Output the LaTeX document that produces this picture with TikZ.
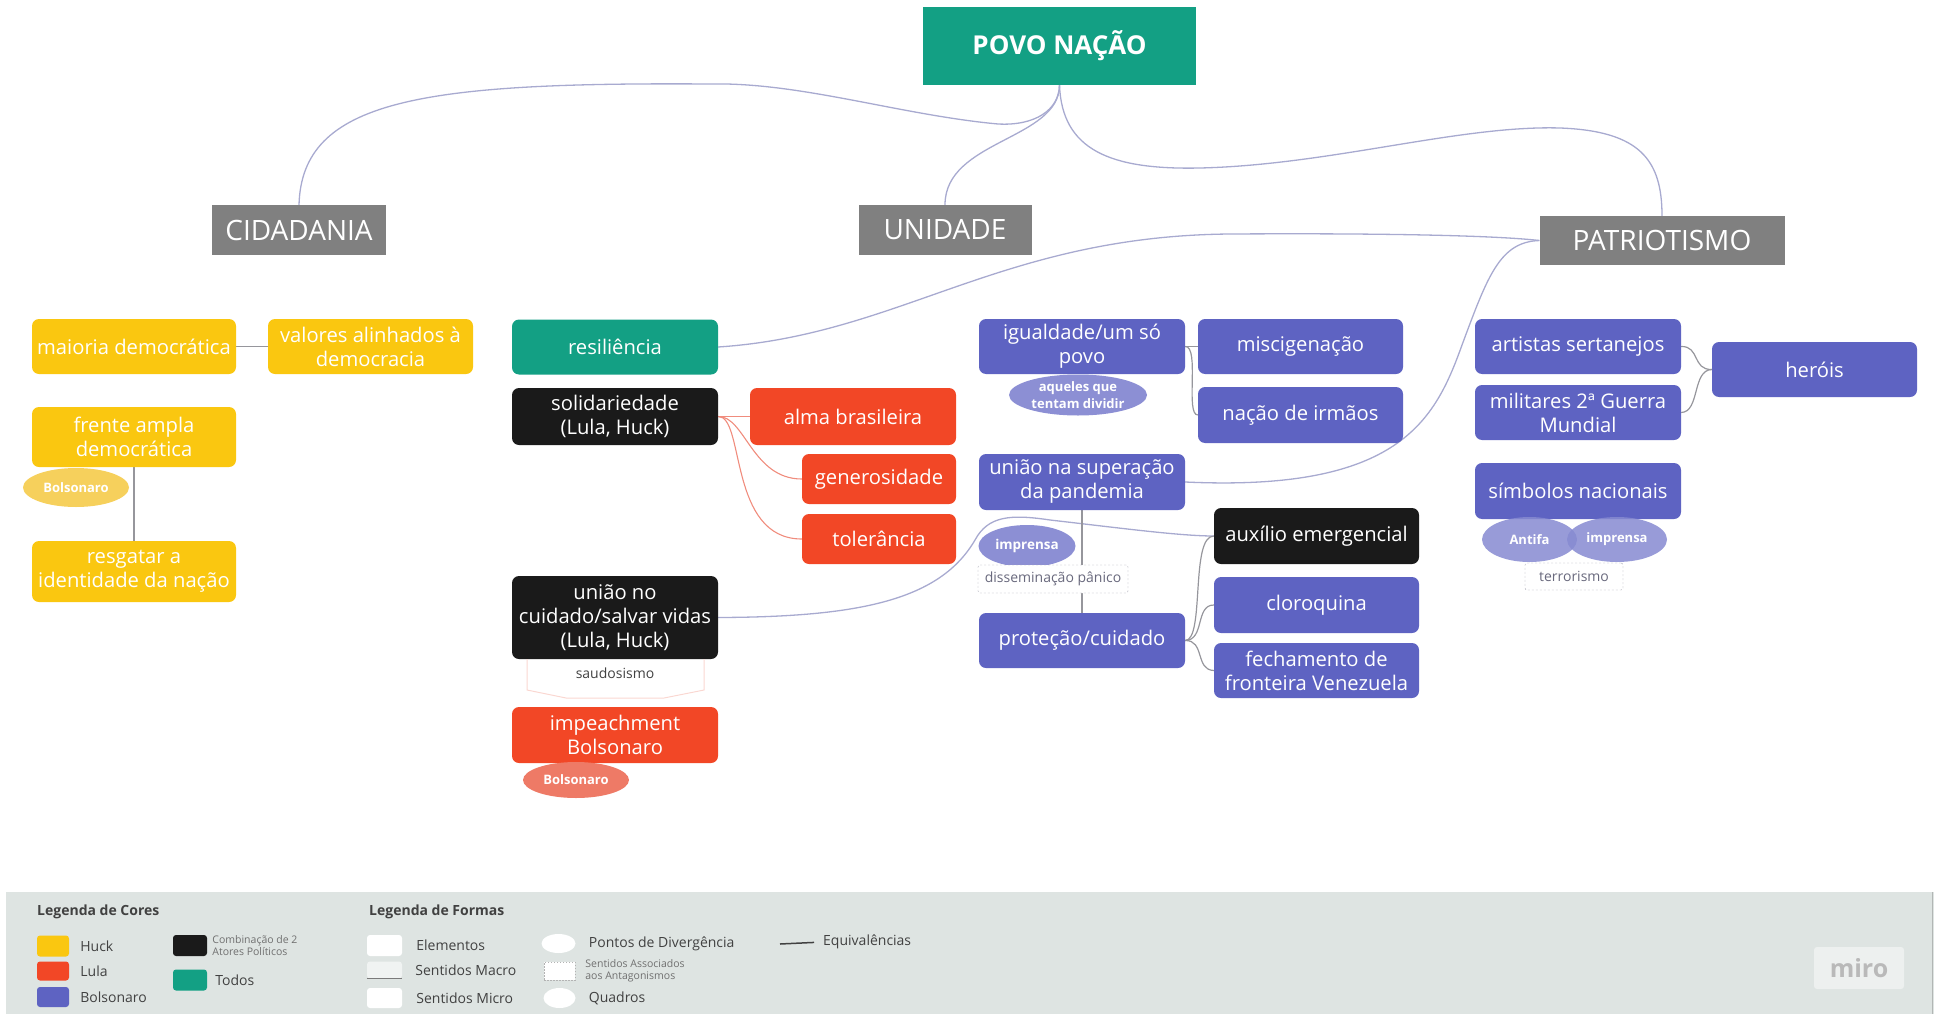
\documentclass[tikz,border=0pt]{standalone}
\usepackage{fontspec}
\setmainfont{Open Sans}
\usepackage{tikz}
\usetikzlibrary{shapes}
\usetikzlibrary{shapes.geometric}
\pgfdeclarelayer{edgelayer}
\pgfdeclarelayer{nodelayer}
\pgfsetlayers{edgelayer,nodelayer,main}
\definecolor{miroteal}{RGB}{19,160,132}
\definecolor{miroyellow}{RGB}{250,199,16}
\definecolor{mirored}{RGB}{242,71,38}
\definecolor{miroblue}{RGB}{94,99,194}
\definecolor{miroblack}{RGB}{26,26,26}
\definecolor{headgray}{RGB}{128,128,128}
\definecolor{paleyellow}{RGB}{246,208,92}
\definecolor{salmon}{RGB}{238,122,102}
\definecolor{paleblue}{RGB}{140,143,212}
\definecolor{linkgray}{RGB}{150,150,156}
\definecolor{linkblue}{RGB}{168,170,208}
\definecolor{linkred}{RGB}{240,140,125}
\definecolor{tagtext}{RGB}{105,105,125}
\definecolor{panel}{RGB}{222,228,226}
\definecolor{legtext}{RGB}{65,65,65}
\newcommand{\bxfont}{\fontsize{20.2}{24}\selectfont}
\newcommand{\hdfont}{\fontsize{28}{32}\selectfont}
\newcommand{\tpfont}{\fontsize{26}{30}\selectfont\bfseries}
\newcommand{\blfont}{\fontsize{13}{17}\selectfont\bfseries}
\newcommand{\tgfont}{\fontsize{14}{17}\selectfont}
\newcommand{\lgfont}{\fontsize{14}{17}\selectfont}
\newcommand{\lsfont}{\fontsize{10.5}{12.5}\selectfont}
\tikzstyle{none}=[inner sep=0pt]
\tikzstyle{box}=[rectangle, rounded corners=7pt, minimum width=206pt, minimum height=55pt, inner sep=0pt, text=white, align=center, font=\bxfont]
\tikzstyle{heading}=[rectangle, fill=headgray, inner sep=0pt, text=white, font=\hdfont]
\tikzstyle{blob}=[ellipse, inner sep=0pt, text=white, align=center, font=\blfont]
\tikzstyle{tagbox}=[rectangle, rounded corners=2pt, draw=tagtext!60, dash pattern=on 2pt off 2pt, fill=white, inner sep=0pt, text=tagtext, font=\tgfont]
\tikzstyle{conn}=[draw=linkgray, line width=1.2pt]
\tikzstyle{bluelink}=[draw=linkblue, line width=1.3pt]
\tikzstyle{redlink}=[draw=linkred, line width=1.1pt]
\tikzstyle{swatch}=[rectangle, rounded corners=3pt, minimum width=32pt, minimum height=21pt, inner sep=0pt]
\tikzstyle{legtitle}=[inner sep=0pt, anchor=west, text=legtext, font=\lgfont\bfseries]
\tikzstyle{every label}=[inner sep=0pt, font=\lgfont, text=legtext]

\begin{document}
\begin{tikzpicture}[x=1pt, y=-1pt]
	\useasboundingbox (0,0) rectangle (1934,1014);
	\begin{pgfonlayer}{nodelayer}
		\node [style=heading, fill=miroteal, font=\tpfont, minimum width=273pt, minimum height=78pt] (0) at (1059.5,46) {POVO NAÇÃO};
		\node [style=heading, minimum width=174pt, minimum height=50pt] (1) at (299,230) {CIDADANIA};
		\node [style=heading, minimum width=173pt, minimum height=50pt] (2) at (945,230) {UNIDADE};
		\node [style=heading, minimum width=245pt, minimum height=49pt] (3) at (1662,240.5) {PATRIOTISMO};
		\node [style=box, fill=miroyellow, minimum width=204pt] (4) at (134,346.5) {maioria democrática};
		\node [style=box, fill=miroyellow, minimum width=205pt] (5) at (370.5,346.5) {valores alinhados à\\democracia};
		\node [style=box, fill=miroyellow, minimum width=204pt, minimum height=60pt] (6) at (134,437) {frente ampla\\democrática};
		\node [style=blob, fill=paleyellow, minimum width=106pt, minimum height=39pt] (7) at (76,487.5) {Bolsonaro};
		\node [style=box, fill=miroyellow, minimum width=204pt, minimum height=61pt] (8) at (134,571.5) {resgatar a\\identidade da nação};
		\node [style=box, fill=miroteal] (9) at (615,347) {resiliência};
		\node [style=box, fill=miroblack, minimum height=57pt] (10) at (615,416.5) {solidariedade\\(Lula, Huck)};
		\node [style=box, fill=mirored, minimum height=57pt] (11) at (853,416.5) {alma brasileira};
		\node [style=box, fill=mirored, minimum width=154pt, minimum height=50pt] (12) at (879,479) {generosidade};
		\node [style=box, fill=mirored, minimum width=154pt, minimum height=50pt] (13) at (879,539) {tolerância};
		\node [style=box, fill=miroblack, minimum height=83pt] (14) at (615,617.5) {união no\\cuidado/salvar vidas\\(Lula, Huck)};
		\draw [draw=linkred!35, line width=1pt] (527,659) -- (527,690) -- (566,698) -- (664,698) -- (704,690) -- (704,659);
		\node [style=none, font=\tgfont, text=legtext] (15) at (615,673) {saudosismo};
		\node [style=box, fill=mirored, minimum height=56pt] (16) at (615,735) {impeachment\\Bolsonaro};
		\node [style=blob, fill=salmon, minimum width=106pt, minimum height=36pt] (17) at (576,780) {Bolsonaro};
		\node [style=blob, fill=paleblue, minimum width=138pt, minimum height=41pt] (19) at (1078,395) {aqueles que\\tentam dividir};
		\node [style=box, fill=miroblue] (18) at (1082,346.5) {igualdade/um só\\povo};
		\node [style=box, fill=miroblue, minimum width=205pt] (20) at (1300.5,346.5) {miscigenação};
		\node [style=box, fill=miroblue, minimum width=205pt, minimum height=56pt] (21) at (1300.5,415) {nação de irmãos};
		\node [style=box, fill=miroblue, minimum height=56pt] (22) at (1082,482) {união na superação\\da pandemia};
		\node [style=blob, fill=paleblue, font=\fontsize{13.5}{17}\selectfont\bfseries, minimum width=97pt, minimum height=42pt] (23) at (1027,546) {imprensa};
		\node [style=tagbox, minimum width=150pt, minimum height=28pt] (24) at (1053,579) {disseminação pânico};
		\node [style=box, fill=miroblue] (25) at (1082,640.5) {proteção/cuidado};
		\node [style=box, fill=miroblack, minimum width=205pt, minimum height=56pt] (26) at (1316.5,536) {auxílio emergencial};
		\node [style=box, fill=miroblue, minimum width=205pt, minimum height=56pt] (27) at (1316.5,605) {cloroquina};
		\node [style=box, fill=miroblue, minimum width=205pt] (28) at (1316.5,670.5) {fechamento de\\fronteira Venezuela};
		\node [style=box, fill=miroblue] (29) at (1578,346.5) {artistas sertanejos};
		\node [style=box, fill=miroblue] (30) at (1578,412.5) {militares 2ª Guerra\\Mundial};
		\node [style=box, fill=miroblue, minimum height=56pt] (31) at (1578,491) {símbolos nacionais};
		\node [style=blob, fill=miroblue!75, fill opacity=0.85, text opacity=1, minimum width=95pt, minimum height=45pt] (32) at (1529.5,539.5) {Antifa};
		\node [style=blob, fill=miroblue!75, fill opacity=0.85, text opacity=1, minimum width=100pt, minimum height=45pt] (33) at (1617,539.5) {imprensa};
		\node [style=tagbox, minimum width=98pt, minimum height=27pt] (34) at (1574,576.5) {terrorismo};
		\node [style=box, fill=miroblue, minimum width=205pt] (35) at (1814.5,369.5) {heróis};
		\node [style=legtitle] (36) at (37,912) {Legenda de Cores};
		\node [style=swatch, fill=miroyellow, label={[xshift=11pt]right:Huck}] (37) at (53,946) {};
		\node [style=swatch, fill=mirored, minimum height=19pt, label={[xshift=11pt]right:Lula}] (38) at (53,971) {};
		\node [style=swatch, fill=miroblue, minimum height=20pt, label={[xshift=11pt]right:Bolsonaro}] (39) at (53,997) {};
		\node [style=swatch, fill=miroblack, minimum width=34pt, label={[xshift=5pt, font=\lsfont, text=legtext!75, align=left]right:Combinação de 2\\Atores Políticos}] (40) at (190,945.5) {};
		\node [style=swatch, fill=miroteal, minimum width=34pt, label={[xshift=8pt]right:Todos}] (41) at (190,980) {};
		\node [style=legtitle] (42) at (369,912) {Legenda de Formas};
		\node [style=swatch, fill=white, minimum width=35pt, label={[xshift=14pt]right:Elementos}] (43) at (384.5,945.5) {};
		\node [style=swatch, fill=white!55!panel, minimum width=35pt, minimum height=17pt, label={[xshift=13pt]right:Sentidos Macro}] (44) at (384.5,970) {};
		\draw [draw=legtext!70, line width=1.2pt] (44.south west) to (44.south east);
		\node [style=swatch, fill=white, minimum width=35pt, minimum height=20pt, label={[xshift=14pt]right:Sentidos Micro}] (45) at (384.5,998) {};
		\node [ellipse, fill=white, minimum width=34pt, minimum height=19pt, inner sep=0pt, label={[xshift=13pt]right:Pontos de Divergência}] (46) at (558.5,943.5) {};
		\node [rectangle, draw=legtext!40, dash pattern=on 1.5pt off 1.5pt, fill=white, minimum width=31pt, minimum height=18pt, inner sep=0pt, label={[xshift=10pt, font=\lsfont, text=legtext!75, align=left]right:Sentidos Associados\\aos Antagonismos}] (47) at (559.5,971) {};
		\node [ellipse, fill=white, minimum width=32pt, minimum height=20pt, inner sep=0pt, label={[xshift=13pt]right:Quadros}] (48) at (559.5,998) {};
		\coordinate (49) at (780,944);
		\node [style=none, anchor=west, font=\lgfont, text=legtext] (50) at (823,942) {Equivalências};
		\node [rectangle, rounded corners=3pt, fill=white!45!panel, minimum width=90pt, minimum height=42pt, inner sep=0pt, text=gray!55, font=\fontsize{25}{28}\selectfont\bfseries] (51) at (1859,968) {miro};
	\end{pgfonlayer}
	\begin{pgfonlayer}{edgelayer}
		\fill [panel] (6,892) rectangle (1934,1014);
		\draw [draw=panel!80!black, line width=1pt] (1932,892) to (1932,1014);
		\draw [style=bluelink] (0.south) .. controls (1059,110) and (1035,126) .. (998,124) .. controls (900,115) and (800,82) .. (710,84) .. controls (420,82) and (302,100) .. (1.north);
		\draw [style=bluelink] (0.south) .. controls (1059,140) and (945,140) .. (2.north);
		\draw [style=bluelink] (0.south) .. controls (1062,150) and (1110,170) .. (1200,168) .. controls (1330,165) and (1460,125) .. (1560,128) .. controls (1640,131) and (1662,160) .. (3.north);
		\draw [style=bluelink] (9.east) .. controls (900,335) and (1000,236) .. (1230,234) .. controls (1400,233) and (1500,236) .. (3.west);
		\draw [style=bluelink] (22.east) .. controls (1400,492) and (1435,420) .. (1462,345) .. controls (1488,275) and (1500,242) .. (3.west);
		\draw [style=bluelink] (14.east) .. controls (860,617) and (940,600) .. (975,540) .. controls (988,516) and (1010,514) .. (1050,520) .. controls (1120,528) and (1180,536) .. (26.west);
		\draw [style=conn] (4.east) to (5.west);
		\draw [style=conn] (6.south) to (8.north);
		\draw [style=redlink] (10.east) to (11.west);
		\draw [style=redlink] (10.east) .. controls (745,416) and (752,479) .. (12.west);
		\draw [style=redlink] (10.east) .. controls (745,416) and (728,539) .. (13.west);
		\draw [style=conn] (18.east) to (20.west);
		\draw [style=conn] (18.east) .. controls (1200,346) and (1185,415) .. (21.west);
		\draw [style=conn] (22.south) to (25.north);
		\draw [style=conn] (25.east) .. controls (1205,640) and (1190,536) .. (26.west);
		\draw [style=conn] (25.east) .. controls (1205,640) and (1195,605) .. (27.west);
		\draw [style=conn] (25.east) .. controls (1205,640) and (1195,670) .. (28.west);
		\draw [style=conn] (29.east) .. controls (1700,346) and (1692,370) .. (35.west);
		\draw [style=conn] (30.east) .. controls (1700,412) and (1692,370) .. (35.west);
		\draw [style=conn, draw=legtext, line width=1.5pt, shorten >=9pt] (49) to (50.west);
	\end{pgfonlayer}
\end{tikzpicture}
\end{document}
